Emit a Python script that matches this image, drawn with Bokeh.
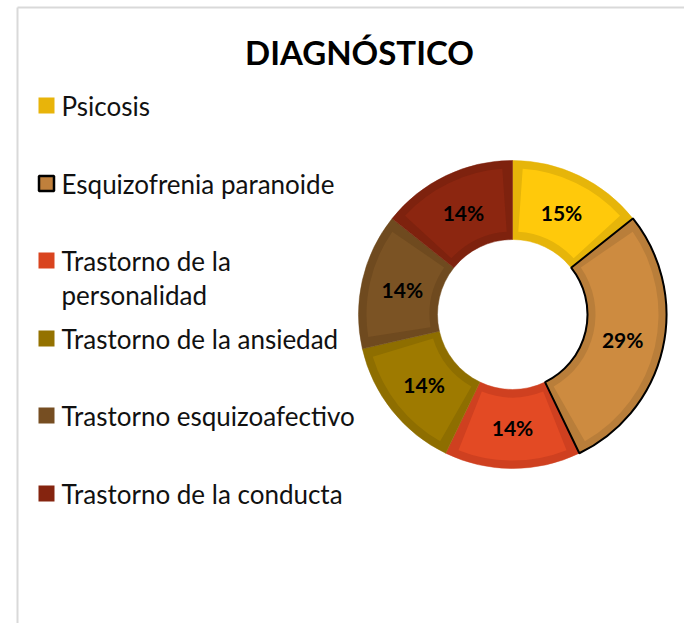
import numpy as np
from bokeh.plotting import figure
from bokeh.models import Range1d, ColumnDataSource
from bokeh.core.properties import value
from bokeh.embed import file_html
from bokeh.resources import INLINE

title = "DIAGNÓSTICO"
categories = ["Psicosis", "Esquizofrenia paranoide", "Trastorno de la personalidad",
              "Trastorno de la ansiedad", "Trastorno esquizoafectivo", "Trastorno de la conducta"]
legend_lines = [["Psicosis"], ["Esquizofrenia paranoide"], ["Trastorno de la", "personalidad"],
                ["Trastorno de la ansiedad"], ["Trastorno esquizoafectivo"], ["Trastorno de la conducta"]]
shares = [1, 2, 1, 1, 1, 1]          # slice sizes as drawn (patients)
labels = ["15%", "29%", "14%", "14%", "14%", "14%"]
fill_colors = ["#FFC90B", "#CD8B40", "#E34A24", "#9E7A00", "#7B5324", "#8C2610"]
edge_colors = ["#E6B50A", "#B97E3A", "#CF4020", "#8E6E00", "#6F4A1F", "#7E220E"]
legend_colors = ["#E8B40A", "#C0803C", "#D9441F", "#947200", "#764E22", "#85240F"]

W, H = 684, 623
def Y(sy):  # screen y -> data y
    return H - sy

p = figure(width=W, height=H, output_backend="svg", toolbar_location=None,
           x_range=Range1d(0, W), y_range=Range1d(0, H), min_border=0)
p.axis.visible = False
p.grid.visible = False
p.outline_line_color = None
p.background_fill_color = "white"
p.border_fill_color = "white"

# chart area border
p.line([17, 17], [Y(7), 0], line_color="#D9D9D9", line_width=2)
p.line([17, W], [Y(7), Y(7)], line_color="#D9D9D9", line_width=2)

cx, cy = 512, Y(314)
R, r = 154, 75
inset = 8.0
frac = np.array(shares, dtype=float) / sum(shares)
cum = np.concatenate([[0], np.cumsum(frac)])
start = np.pi / 2 - cum[:-1] * 2 * np.pi
end = np.pi / 2 - cum[1:] * 2 * np.pi
mid = (start + end) / 2
dlt = inset / ((R + r) / 2)

src = ColumnDataSource(dict(start=start, end=end, s2=start - dlt, e2=end + dlt,
                            fill=fill_colors, edge=edge_colors))
p.annular_wedge(x=cx, y=cy, inner_radius=r, outer_radius=R, start_angle="start", end_angle="end",
                direction="clock", fill_color="edge", line_color="edge", line_width=0.5, source=src)
p.annular_wedge(x=cx, y=cy, inner_radius=r + inset, outer_radius=R - inset, start_angle="s2",
                end_angle="e2", direction="clock", fill_color="fill", line_color=None, source=src)
# highlighted slice outline
p.annular_wedge(x=cx, y=cy, inner_radius=r, outer_radius=R, start_angle=start[1], end_angle=end[1],
                direction="clock", fill_color=None, line_color="black", line_width=2)

lr = 113
p.text(x=cx + lr * np.cos(mid), y=cy + lr * np.sin(mid), text=labels,
       text_font=value("Lato"), text_font_style="bold", text_font_size="21px",
       text_color="black", text_align="center", text_baseline="middle")

# title
p.text(x=[359], y=[Y(51)], text=[title], text_font=value("Lato"), text_font_style="bold",
       text_font_size="33px", text_color="black", text_align="center", text_baseline="middle")

# legend
rows = [105, 183, 260, 338, 415, 493]
p.rect(x=[46] * 6, y=[Y(v) for v in rows], width=16, height=16,
       fill_color=legend_colors, line_color=None)
p.rect(x=[46], y=[Y(rows[1])], width=15, height=15, fill_color=None,
       line_color="black", line_width=2.5)
tx, ty, tt = [], [], []
for row, lines in zip(rows, legend_lines):
    for k, t in enumerate(lines):
        tx.append(61)
        ty.append(Y(row + k * 34))
        tt.append(t)
p.text(x=tx, y=ty, text=tt, text_font=value("Lato"), text_font_size="26px",
       text_color="#111111", text_align="left", text_baseline="middle")

open("out.html", "w").write(file_html(p, INLINE))
